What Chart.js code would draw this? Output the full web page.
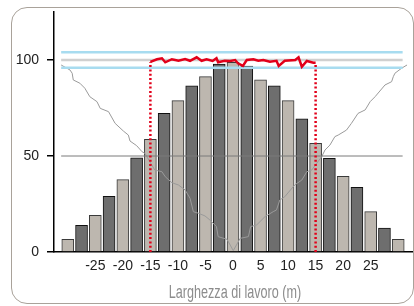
<!DOCTYPE html>
<html>
<head>
<meta charset="utf-8">
<script src="https://cdn.jsdelivr.net/npm/chart.js@4"></script>
<style>
  html, body { margin: 0; padding: 0; background: #fff; }
  #wrap { position: relative; width: 414px; height: 306px; overflow: hidden; }
  .frame {
    position: absolute; left: 11px; top: 7px; width: 403px; height: 297px;
    border: 1.5px solid #a9a29a; border-radius: 16px; box-sizing: border-box;
  }
  canvas { position: absolute; left: 0; top: 0; }
</style>
</head>
<body>
<div id="wrap">
  <div class="frame"></div>
  <canvas id="myChart" width="414" height="306"></canvas>
</div>
<script>
// data
const barX = [-30, -27.5, -25, -22.5, -20, -17.5, -15, -12.5, -10, -7.5, -5, -2.5, 0,
  2.5, 5, 7.5, 10, 12.5, 15, 17.5, 20, 22.5, 25, 27.5, 30];
const barValues = [6.6, 13.9, 19.1, 29, 37.7, 49.1, 58.7, 72.2, 78.8, 86.6, 91.3, 97.9, 98.8,
  96.8, 89.7, 86.6, 78.8, 69.3, 56.6, 48.8, 39.4, 33.7, 21, 12.5, 6.6];

// red distribution line (working width)
const redX = [-15, -13.8, -12.9, -12.3, -11.1, -9.9, -8.7, -7.8, -6.6, -5.7, -4.8, -3.7, -3, -2.7,
  -1.5, -0.5, 0.4, 0.9, 1.8, 2.5, 3.7, 4.6, 5.5, 6.7, 7.9, 8.3, 9.4, 11.3, 11.9, 12.5, 13.4, 14.6, 15];
const redY = [99, 100.4, 100.9, 98.8, 100.4, 99.6, 100.5, 99.6, 101.4, 99.6, 100.4, 99.5, 100.9, 98.8,
  99.6, 99.5, 100, 98.3, 96.9, 100, 100.4, 99.6, 100, 99.1, 99.6, 96.9, 99.6, 100, 101.4, 96.5, 99.5, 98.6, 98.6];

// thin grey V line
const greyX = [-31.2, -29.6, -29.2, -29, -27.8, -26.9, -26, -24.7, -24.1, -22.6, -21.4, -19.9, -19, -18.7,
  -17.5, -16.5, -16, -15.1, -14.2, -12.9, -12.3, -11.1, -9.9, -8.7, -7.8, -7.2, -6.3, -5.1, -4.2, -3,
  -2.7, -1.1, -0.5, 0.05, 1.3, 2.8, 3.2, 4.3, 5.8, 7.3, 7.9, 8.5, 9.4, 11.2, 12.5, 13.4, 14.3, 15.2,
  16.1, 16.7, 17.6, 18.5, 19.1, 20.6, 21.5, 22.7, 24, 24.9, 25.8, 27.6, 28.8, 29.1, 29.4, 30.6, 31.6];
const greyY = [97.4, 94.8, 93.1, 89.6, 87.9, 85.3, 80.9, 78.3, 74.8, 73.1, 67, 63, 60.9, 57.8,
  55.4, 52.2, 51.4, 47, 42.7, 41.8, 39.2, 36.1, 34.9, 32.3, 28, 21, 20.2, 18.8, 16.7, 13.2,
  8, 6.6, 3.6, 0.7, 7.1, 8, 13.2, 14.1, 18.4, 21, 21.9, 27.1, 28.8, 34.9, 37.5, 41.8, 42.7, 46.2,
  49.6, 53.1, 55.7, 60.1, 60.9, 63.5, 67, 72.2, 74, 78.3, 80.9, 87, 88.7, 91.3, 93.1, 95.7, 97.4];

const markerX = [-15, 15];          // red dotted limits
const refSpan = [-31.2, 30.8];      // extent of the horizontal reference lines
const bandLevels = [104, 96];       // light blue tolerance band
const targetLevel = 100;
const gridLevel = 50;
const xTicks = [-25, -20, -15, -10, -5, 0, 5, 10, 15, 20, 25];
const yTicks = [0, 50, 100];
const xTitle = "Larghezza di lavoro (m)";

const zip = (xs, ys) => xs.map((x, i) => ({ x: x, y: ys[i] }));
const flat = (v) => refSpan.map((x) => ({ x: x, y: v }));

const lineBase = { type: "line", pointRadius: 0, fill: false, tension: 0 };

const datasets = [
  {
    type: "bar",
    data: zip(barX, barValues),
    backgroundColor: barX.map((x, i) => (i % 2 ? "#6e6e6e" : "#bdb7af")),
    borderColor: barX.map((x, i) => (i % 2 ? "#111" : "#3a3a3a")),
    borderWidth: 1,
    barThickness: 12,
    order: 10,
  },
  { ...lineBase, data: zip(greyX, greyY), borderColor: "#9a9a9a", borderWidth: 1, order: 5 },
  { ...lineBase, data: flat(gridLevel), borderColor: "#7a7a7a", borderWidth: 1, order: 4 },
  { ...lineBase, data: flat(targetLevel), borderColor: "#d0d0d0", borderWidth: 2.5, order: 4 },
  { ...lineBase, data: flat(bandLevels[0]), borderColor: "#a8dcf0", borderWidth: 2.5, order: 4 },
  { ...lineBase, data: flat(bandLevels[1]), borderColor: "#a8dcf0", borderWidth: 2.5, order: 4 },
];
markerX.forEach((mx, i) => {
  const top = i === 0 ? redY[0] : redY[redY.length - 1];
  datasets.push({
    ...lineBase,
    data: [{ x: mx, y: 0 }, { x: mx, y: top }],
    borderColor: "#e2001a",
    borderWidth: 2.5,
    borderDash: [2, 2.3],
    order: 2,
  });
});
datasets.push({ ...lineBase, data: zip(redX, redY), borderColor: "#e2001a", borderWidth: 2.5, order: 1 });

// condensed axis title (no condensed font installed, so squeeze it)
const squeezeTitle = {
  id: "squeezeTitle",
  afterDraw(chart) {
    const { ctx, chartArea } = chart;
    ctx.save();
    ctx.font = "18px 'Liberation Sans', Arial, sans-serif";
    ctx.fillStyle = "#8c8c8c";
    ctx.textAlign = "center";
    ctx.textBaseline = "alphabetic";
    ctx.translate((chartArea.left + chartArea.right) / 2 + 2, chart.height - 8);
    ctx.scale(0.7, 1);
    ctx.fillText(xTitle, 0, 0);
    ctx.restore();
  },
};

const config = {
  type: "bar",
  data: { datasets },
  options: {
    responsive: false,
    animation: false,
    devicePixelRatio: 1,
    layout: { padding: { left: 0, right: 2, top: 12, bottom: 3 } },
    plugins: { legend: { display: false }, tooltip: { enabled: false } },
    scales: {
      x: {
        type: "linear",
        min: -32.5,
        max: 32.5,
        offset: false,
        afterFit: (s) => {
          s.height = 51;
          s.paddingLeft = 0;
          s.paddingRight = 0;
        },
        afterBuildTicks: (s) => { s.ticks = xTicks.map((v) => ({ value: v })); },
        grid: { display: true, drawOnChartArea: false, drawTicks: false },
        border: { display: true, color: "#000", width: 1.5 },
        ticks: {
          autoSkip: false,
          maxRotation: 0,
          padding: 6,
          color: "#222",
          font: { family: "Liberation Sans", size: 14 },
        },
        title: { display: false, text: xTitle },
      },
      y: {
        min: 0,
        max: 125,
        afterFit: (s) => {
          s.width = 54;
          s.paddingTop = 0;
          s.paddingBottom = 0;
        },
        afterBuildTicks: (s) => { s.ticks = yTicks.map((v) => ({ value: v })); },
        grid: { drawOnChartArea: false, drawTicks: true, tickLength: 7, color: "#000", lineWidth: 1.5 },
        border: { display: true, color: "#000", width: 1.5 },
        ticks: {
          padding: 8,
          color: "#222",
          font: { family: "Liberation Sans", size: 14 },
        },
      },
    },
  },
  plugins: [squeezeTitle],
};

const myChart = new Chart(document.getElementById("myChart"), config);
</script>
</body>
</html>
